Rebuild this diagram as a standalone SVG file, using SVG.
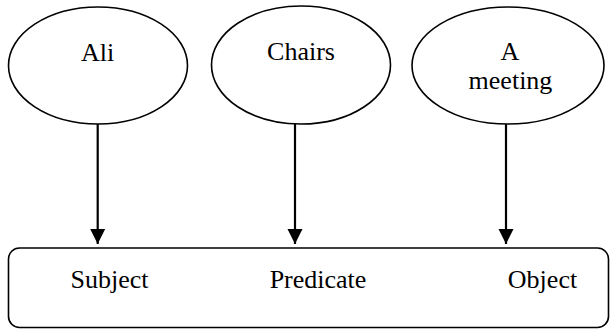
<svg xmlns="http://www.w3.org/2000/svg" width="610" height="329" viewBox="0 0 610 329">
<defs>
<style>
.node{fill:#fff;stroke:#000;stroke-width:1.6}
.lbl{font-family:"Liberation Serif","Times New Roman",serif;font-size:26px;fill:#000;text-anchor:middle}
.edge{stroke:#000;stroke-width:2.2;fill:none}
</style>
<marker id="arrow" markerUnits="userSpaceOnUse" markerWidth="16" markerHeight="16" viewBox="0 0 16 16" refX="15" refY="8" orient="auto">
<path d="M0,0.5 L15,8 L0,15.5 Z" fill="#000"/>
</marker>
</defs>
<rect width="610" height="329" fill="#fff"/>
<g id="node-ali">
<ellipse class="node" cx="98" cy="65.5" rx="89.5" ry="58.5"/>
<text class="lbl" x="97.5" y="60.5">Ali</text>
</g>
<g id="node-chairs">
<ellipse class="node" cx="301" cy="65" rx="89.5" ry="59"/>
<text class="lbl" x="301" y="60">Chairs</text>
</g>
<g id="node-meeting">
<ellipse class="node" cx="508" cy="65.5" rx="96" ry="58.5"/>
<text class="lbl" x="510" y="59.5">A</text>
<text class="lbl" x="510.5" y="89">meeting</text>
</g>
<g id="node-triple">
<rect class="node" x="8.5" y="248" width="600" height="79.5" rx="11" ry="11"/>
<text class="lbl" x="109.5" y="287.5">Subject</text>
<text class="lbl" x="318" y="288">Predicate</text>
<text class="lbl" x="542.5" y="288">Object</text>
</g>
<g id="connectors">
<line class="edge" x1="97.7" y1="124" x2="97.7" y2="244" marker-end="url(#arrow)"/>
<line class="edge" x1="295" y1="124" x2="295" y2="244" marker-end="url(#arrow)"/>
<line class="edge" x1="506" y1="124" x2="506" y2="244" marker-end="url(#arrow)"/>
</g>
</svg>
